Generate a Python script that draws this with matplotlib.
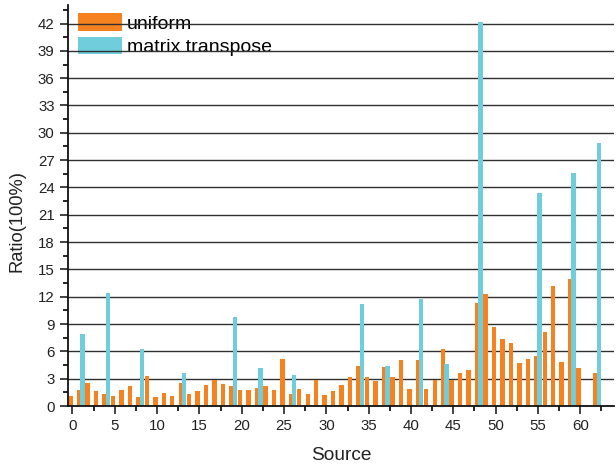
import numpy as np
import matplotlib.pyplot as plt
from matplotlib.ticker import MultipleLocator

plt.rcParams['font.family'] = ['Liberation Sans', 'DejaVu Sans']

sources = np.arange(64)
uniform = [1.10, 1.72, 2.49, 1.61, 1.35, 1.10, 1.72, 2.16, 1.02, 3.29,
           0.99, 1.46, 1.06, 2.49, 1.28, 1.61, 2.27, 2.89, 2.38, 2.23,
           1.72, 1.79, 1.98, 2.20, 1.72, 5.12, 1.35, 1.90, 1.28, 2.85,
           1.17, 1.61, 2.27, 3.22, 4.39, 3.18, 2.71, 4.32, 3.22, 5.01,
           1.83, 5.05, 1.90, 2.85, 6.22, 2.85, 3.59, 3.95, 11.31, 12.26,
           8.64, 7.39, 6.88, 4.68, 5.12, 5.45, 8.09, 13.14, 4.83, 13.94,
           4.13, 0.0, 3.59, 0.0]
transpose_src = [1, 4, 8, 13, 19, 22, 26, 34, 37, 41, 44, 48, 55, 59, 62]
transpose_val = [7.87, 12.37, 6.22, 3.62, 9.81, 4.17, 3.44, 11.16, 4.43, 11.71,
                 4.57, 42.2, 23.4, 25.6, 28.9]

c_uni = '#F5821F'
c_tr = '#6FCDDC'

fig = plt.figure(figsize=(6.16, 4.67), dpi=100)
ax = fig.add_axes([0.110, 0.1306, 0.887, 0.858])

w = 0.52
ax.bar(sources - 0.2, uniform, width=w, color=c_uni, label='uniform', zorder=1)
ax.bar(np.array(transpose_src) + 0.2, transpose_val, width=w, color=c_tr,
       label='matrix transpose', zorder=1.1)

ax.set_xlim(-0.55, 64.0)
ax.set_ylim(0, 44)
ax.xaxis.set_major_locator(MultipleLocator(5))
ax.xaxis.set_minor_locator(MultipleLocator(2.5))
ax.yaxis.set_major_locator(MultipleLocator(3))
ax.yaxis.set_minor_locator(MultipleLocator(1.5))
ax.tick_params(which='major', direction='out', length=6, width=1.2,
               labelsize=10.8, colors='#222222')
ax.tick_params(which='minor', direction='out', length=3.5, width=1.2)
ax.set_axisbelow(True)
ax.grid(axis='y', which='major', color='#303030', lw=1.0)

for s in ['top', 'right']:
    ax.spines[s].set_visible(False)
for s in ['left', 'bottom']:
    ax.spines[s].set_linewidth(1.3)
    ax.spines[s].set_color('#111111')

ax.set_xlabel('Source', fontsize=13.8, color='#222222')
ax.set_ylabel('Ratio(100%)', fontsize=13.2, color='#222222')
ax.xaxis.set_label_coords(0.5, -0.103)
ax.yaxis.set_label_coords(-0.077, 0.461)

leg = ax.legend(loc='upper left', bbox_to_anchor=(0.018, 0.98), frameon=False,
                fontsize=14, handlelength=2.27, handleheight=1.0,
                handletextpad=0.26, labelspacing=0.2, borderpad=0,
                borderaxespad=0)
leg.set_zorder(0.4)

fig.savefig('out.png', dpi=100)
